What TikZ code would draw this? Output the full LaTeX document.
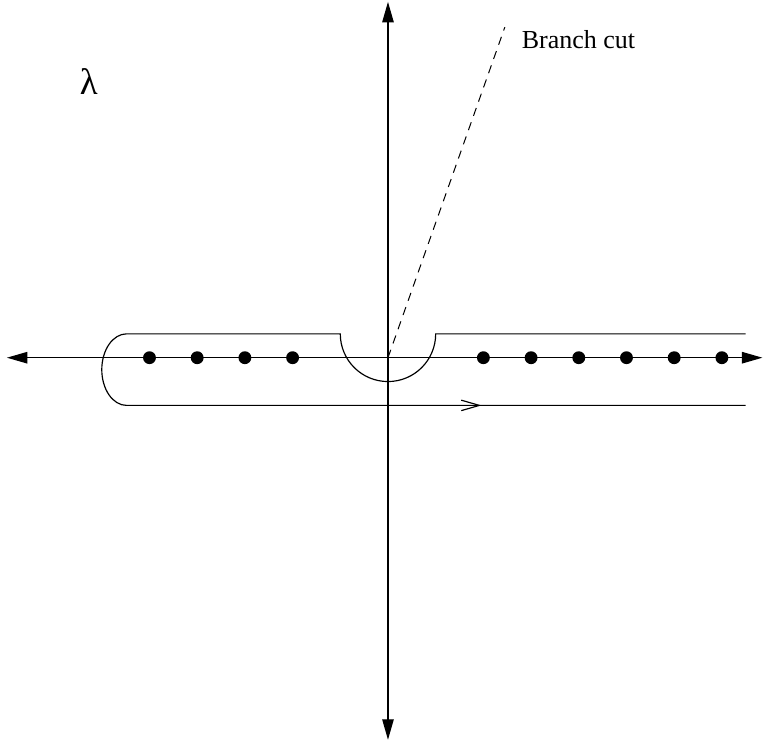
\documentclass[tikz,border=0pt]{standalone}
\usepackage{fontspec}
\setmainfont{Liberation Serif}
\usetikzlibrary{arrows.meta}

\begin{document}
\begin{tikzpicture}[
        axis/.style={line width=0.8pt, {Triangle[length=0.43cm, width=0.24cm]}-{Triangle[length=0.43cm, width=0.24cm]}},
        contour/.style={line width=0.7pt},
        flow/.style={line width=0.7pt, -{Straight Barb[length=0.38cm, width=0.22cm]}},
        pole/.style={circle, fill=black, inner sep=0pt, minimum size=0.27cm},
        cut/.style={line width=0.6pt, dash pattern=on 5pt off 4pt}
    ]
    \useasboundingbox (-8.134,-8.057) rectangle (7.862,7.499);
    % axes
    \coordinate (west) at (-7.99,0);
    \coordinate (east) at (7.85,0);
    \coordinate (north) at (0,7.46);
    \coordinate (south) at (0,-8.01);
    \coordinate (origin) at (0,0);
    \draw[axis] (west) -- (east);
    \draw[axis] (south) -- (north);
    % poles on the real axis
    \foreach \i in {-5,-4,-3,-2,2,3,4,5,6,7}
        \node[pole] (p\i) at (\i,0) {};
    % contour
    \coordinate (upright) at (7.5,0.5);
    \coordinate (lowleft) at (-5.48,-1);
    \coordinate (lowright) at (7.5,-1);
    \coordinate (mark) at (1.96,-1);
    \draw[contour] (upright) -- (1,0.5) arc[start angle=0, end angle=-180, radius=1]
        -- (-5.48,0.5) arc[start angle=90, end angle=270, x radius=0.52, y radius=0.75]
        -- (lowright);
    \draw[flow] (lowleft) -- (mark);
    % branch cut
    \coordinate (cutend) at (2.45,6.93);
    \draw[cut] (origin) -- (cutend);
    \node[anchor=base west, inner sep=0pt, font=\fontsize{15.5}{18}\selectfont] (cutlabel) at (2.80,6.49) {Branch cut};
    \node[inner sep=0pt, font=\fontsize{22}{26}\selectfont] (lambda) at (-6.27,5.78) {λ};
\end{tikzpicture}
\end{document}
